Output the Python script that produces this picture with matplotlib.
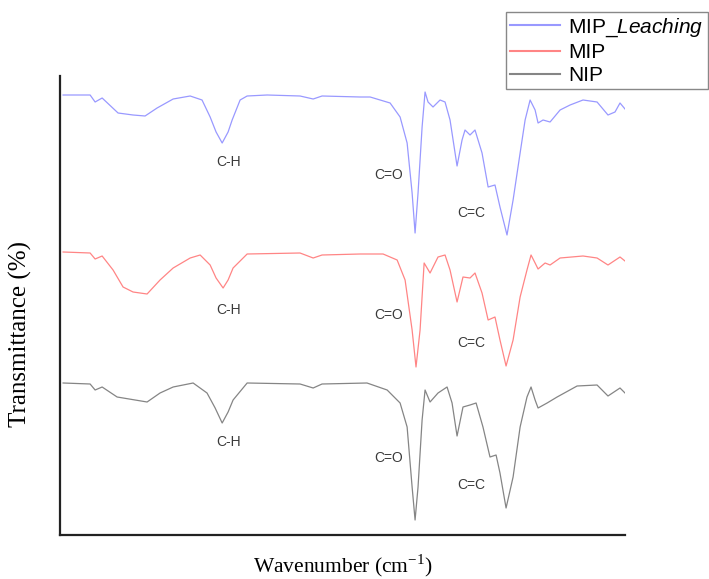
import numpy as np
import matplotlib
matplotlib.use("Agg")
import matplotlib.pyplot as plt

plt.rcParams['mathtext.fontset'] = 'custom'
plt.rcParams['mathtext.rm'] = 'Liberation Serif'
plt.rcParams['mathtext.it'] = 'Liberation Sans:italic'

# wavenumber (cm-1) and transmittance (stacked, arbitrary units)
wn_leach = [4000, 3827, 3795, 3750, 3648, 3552, 3475, 3398, 3295, 3186, 3110, 3058,
            3020, 2981, 2943, 2917, 2866, 2821, 2693, 2482, 2398, 2341, 2097, 2033,
            1905, 1841, 1796, 1764, 1745, 1726, 1700, 1681, 1662, 1630, 1585, 1553,
            1521, 1476, 1444, 1425, 1393, 1361, 1316, 1277, 1233, 1201, 1156, 1117,
            1072, 1040, 1008, 976, 957, 925, 880, 816, 752, 669, 579, 509, 464, 432, 400]
t_leach = [440, 440, 433, 437, 422, 420, 419, 427, 436, 439, 435, 418,
           403, 392, 403, 415, 435, 439, 440, 439, 436, 439, 438, 438,
           432, 418, 392, 342, 302, 342, 408, 443, 433, 428, 435, 433,
           415, 369, 395, 405, 400, 405, 382, 348, 350, 328, 300, 335,
           382, 415, 435, 425, 412, 415, 413, 425, 430, 435, 433, 420, 423, 432, 426]

wn_mip = [4000, 3827, 3795, 3750, 3680, 3616, 3552, 3462, 3379, 3295, 3186, 3122,
          3058, 3020, 2975, 2943, 2911, 2821, 2482, 2398, 2341, 2097, 1950, 1860,
          1809, 1764, 1739, 1713, 1687, 1649, 1598, 1553, 1521, 1476, 1438, 1393,
          1361, 1316, 1277, 1233, 1201, 1162, 1117, 1072, 1028, 1002, 976, 957,
          912, 880, 816, 669, 579, 509, 432, 400]
t_mip = [283, 282, 276, 279, 265, 248, 243, 241, 255, 267, 277, 280,
         270, 257, 247, 255, 267, 281, 282, 277, 280, 281, 281, 275,
         255, 205, 168, 205, 272, 262, 278, 280, 265, 233, 258, 257,
         262, 242, 215, 218, 195, 169, 195, 238, 265, 280, 272, 266,
         272, 270, 277, 279, 277, 270, 278, 274]

wn_nip = [4000, 3827, 3795, 3750, 3654, 3462, 3379, 3295, 3167, 3078, 3026, 2981,
          2943, 2911, 2821, 2482, 2398, 2341, 2053, 1924, 1841, 1796, 1764, 1745,
          1726, 1700, 1681, 1649, 1598, 1540, 1508, 1476, 1438, 1393, 1354, 1310,
          1265, 1226, 1201, 1162, 1117, 1072, 1028, 1002, 976, 957, 899, 835,
          707, 579, 509, 432, 400]
t_nip = [152, 151, 145, 148, 138, 133, 142, 148, 152, 142, 127, 112,
         123, 135, 152, 151, 147, 151, 152, 145, 132, 108, 48, 15,
         48, 115, 145, 133, 142, 148, 132, 99, 128, 130, 132, 108,
         78, 80, 62, 27, 58, 108, 138, 148, 135, 127, 132, 138,
         149, 150, 139, 147, 142]

# band labels: text, wavenumber, height per trace
bands = ['C-H', 'C=O', 'C=C']
band_wn = [2943, 1915, 1385]
band_y_leach = [373, 360, 322]
band_y_mip = [225, 220, 192]
band_y_nip = [93, 77, 50]

fig = plt.figure(figsize=(7.09, 5.79), dpi=100)
ax = fig.add_axes([60 / 709, 1 - 535 / 579, 565 / 709, 459 / 579])

l1, = ax.plot(wn_leach, t_leach, color='#9999ff', lw=0.9, label='MIP_$\\mathit{Leaching}$')
l2, = ax.plot(wn_mip, t_mip, color='#ff8585', lw=0.9, label='MIP')
l3, = ax.plot(wn_nip, t_nip, color='#858585', lw=0.9, label='NIP')

for ys in (band_y_leach, band_y_mip, band_y_nip):
    for txt, w, y in zip(bands, band_wn, ys):
        ax.text(w, y, txt, ha='center', va='center', fontsize=10,
                family='Liberation Sans', color='#3a3a3a')

ax.set_xlim(4020, 400)
ax.set_ylim(0, 459)
ax.set_xticks([])
ax.set_yticks([])
for s in ('top', 'right'):
    ax.spines[s].set_visible(False)
for s in ('left', 'bottom'):
    ax.spines[s].set_linewidth(1.6)
    ax.spines[s].set_color('#222222')

ax.set_xlabel('Wavenumber (cm$^{-1}$)', family='Liberation Serif', fontsize=15.5)
ax.set_ylabel('Transmittance (%)', family='Liberation Serif', fontsize=18)
ax.xaxis.set_label_coords(0.501, -0.037)
ax.yaxis.set_label_coords(-0.05, 0.438)

leg = fig.legend(handles=[l1, l2, l3], loc='upper left',
                 bbox_to_anchor=(506 / 709, 1 - 12 / 579), borderaxespad=0,
                 prop={'family': 'Liberation Sans', 'size': 15},
                 handlelength=2.4, handletextpad=0.4, labelspacing=0.2,
                 borderpad=0.2, fancybox=False, framealpha=1, edgecolor='#888888')
leg.get_frame().set_linewidth(1.0)
for h in leg.get_lines():
    h.set_linewidth(1.5)

fig.savefig('out.png', dpi=100)
